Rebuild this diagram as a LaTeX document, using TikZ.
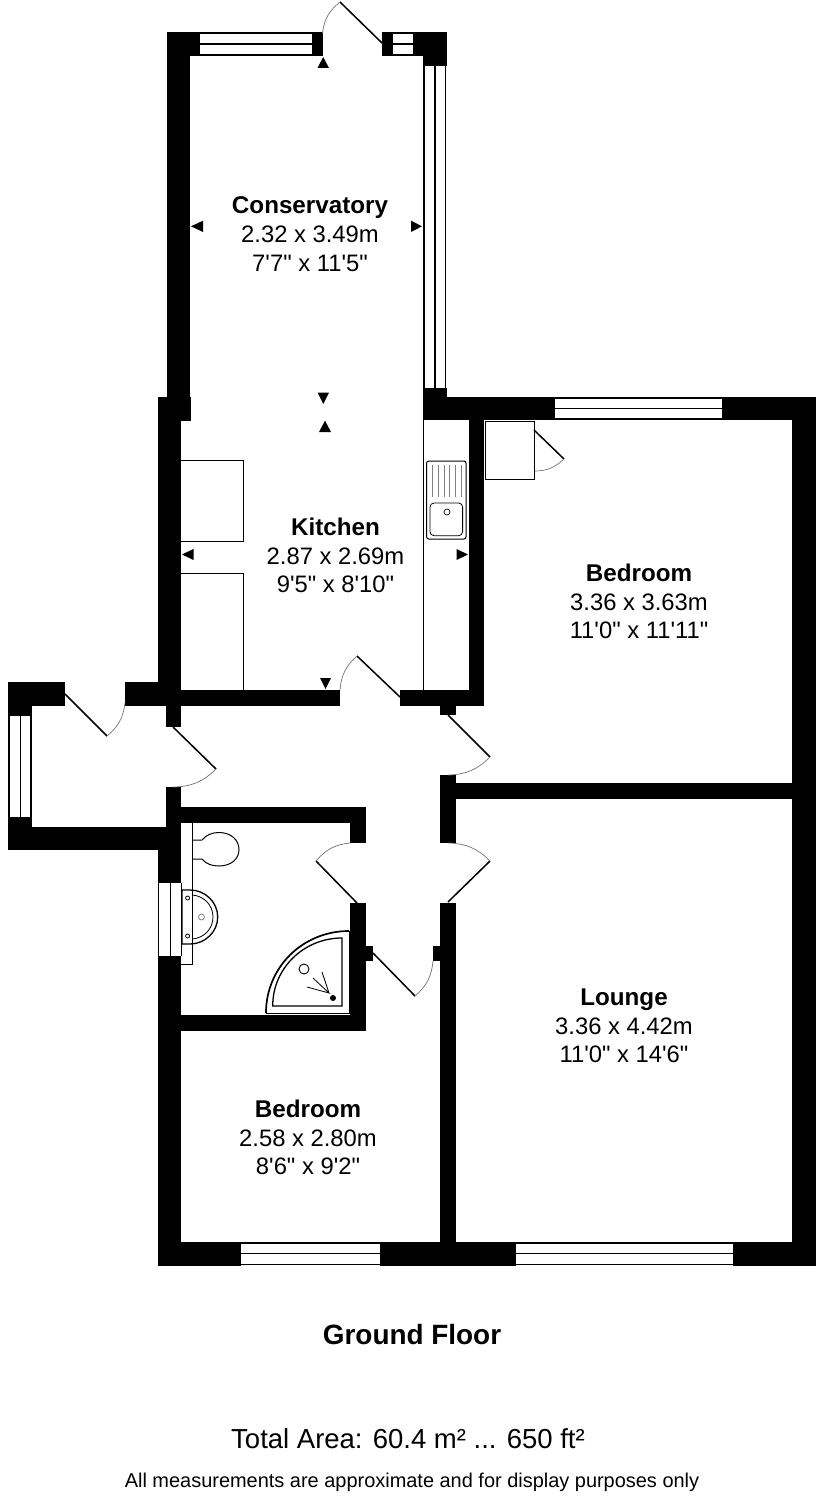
\documentclass[tikz,border=0pt]{standalone}
\usepackage{fontspec}
\setmainfont{Liberation Sans}[Ligatures=TeXOff]
\usepackage{tikz}
\newcommand{\doorleaf}[4]{%
	\draw[leaf] (#1) -- (#2);
	\draw[swing] (#2) to[bend #4=22] (#3);
}
\newcommand{\roomname}[1]{{\fontsize{24.2}{28.7}\selectfont\bfseries #1}}
\tikzset{
	wall/.style={fill=black},
	win/.style={draw=black, line width=1.6pt},
	leaf/.style={draw=black, line width=1.5pt},
	swing/.style={draw=black!55, line width=0.7pt},
	fitting/.style={draw=black, line width=1pt},
	dimtip/.style={fill=black},
	room/.style={align=center, inner sep=0pt, font=\fontsize{23.8}{28.7}\selectfont},
}
\begin{document}
\begin{tikzpicture}[x=1pt, y=-1pt]
	\useasboundingbox (0,0) rectangle (816,1496);
	% conservatory walls
	\fill[wall] (167,32) rectangle (190,397);
	\fill[wall] (190,32) rectangle (200,56);
	\fill[wall] (312,32) rectangle (322.5,56);
	\fill[wall] (382,32) rectangle (393,56);
	\fill[wall] (413,32) rectangle (446.5,56);
	\fill[wall] (423,56) rectangle (446.5,66);
	\fill[wall] (423,388) rectangle (446.5,420);
	% kitchen and hall walls
	\fill[wall] (157.5,397) rectangle (191,421);
	\fill[wall] (157.5,421) rectangle (181,706);
	\fill[wall] (125,682) rectangle (158,706);
	\fill[wall] (181,690) rectangle (340,706);
	\fill[wall] (400,690) rectangle (484,706);
	\fill[wall] (469,420) rectangle (484,690);
	\fill[wall] (440,706) rectangle (456,715);
	\fill[wall] (166,706) rectangle (181,727);
	\fill[wall] (166,787) rectangle (181,827);
	% porch walls
	\fill[wall] (8,682) rectangle (65,706);
	\fill[wall] (8,706) rectangle (32,716);
	\fill[wall] (8,817) rectangle (32,827);
	\fill[wall] (8,827) rectangle (181,850);
	% bathroom walls
	\fill[wall] (158,850) rectangle (181,882.5);
	\fill[wall] (158,955.5) rectangle (181,1265);
	\fill[wall] (181,807) rectangle (365.7,823);
	\fill[wall] (350,823) rectangle (365.7,843);
	\fill[wall] (350,903) rectangle (365.7,1030.7);
	\fill[wall] (181,1015) rectangle (350,1030.7);
	\fill[wall] (365,945.5) rectangle (372.5,961);
	\fill[wall] (432.7,945.5) rectangle (441,961);
	% outer walls and lounge
	\fill[wall] (446,397) rectangle (555,420);
	\fill[wall] (722,397) rectangle (816,420);
	\fill[wall] (792,420) rectangle (816,1242);
	\fill[wall] (158,1242) rectangle (241,1265.5);
	\fill[wall] (380,1242) rectangle (516,1265.5);
	\fill[wall] (733,1242) rectangle (816,1265.5);
	\fill[wall] (440,775) rectangle (456,843);
	\fill[wall] (440,903) rectangle (456,1242);
	\fill[wall] (456,783) rectangle (792,799);
	% windows
	\draw[win] (200,33) -- (312,33) (200,44) -- (312,44) (200,55) -- (312,55);
	\draw[win] (393,33) -- (413,33) (393,44) -- (413,44) (393,55) -- (413,55);
	\draw[win] (424,66) -- (424,388) (434.7,66) -- (434.7,388) (445.6,66) -- (445.6,388);
	\draw[win] (555,398) -- (722,398) (555,408.5) -- (722,408.5) (555,419) -- (722,419);
	\draw[win] (241,1243) -- (380,1243) (241,1253.5) -- (380,1253.5) (241,1264.5) -- (380,1264.5);
	\draw[win] (516,1243) -- (733,1243) (516,1253.5) -- (733,1253.5) (516,1264.5) -- (733,1264.5);
	\draw[win] (9,716) -- (9,817) (20.5,716) -- (20.5,817) (31,716) -- (31,817);
	\draw[fitting] (158.5,882.5) -- (158.5,955.5) (170,882.5) -- (170,955.5) (181,882.5) -- (181,955.5);
	% doors
	\doorleaf{382,43}{340,2}{322.5,33}{right}
	\doorleaf{400,697}{357,656}{340,690}{right}
	\doorleaf{65,694}{107,736}{125,703}{right}
	\doorleaf{173,727}{216,769}{173,787}{left}
	\doorleaf{448,715}{490,757}{448,775}{left}
	\doorleaf{357,903}{316,861}{350,843}{left}
	\doorleaf{448,902}{490,861}{448,843}{right}
	\doorleaf{373,953}{415,996}{433,961}{right}
	\doorleaf{534,430}{564,459}{534,471}{left}
	% kitchen units and sink
	\draw[fitting] (181,460) -| (243,541) -- (181,541);
	\draw[fitting] (181,573) -| (243,690);
	\draw[fitting] (423.5,420) -- (423.5,690);
	\draw[fitting, rounded corners=2pt] (426.7,461) rectangle (466,539);
	\draw[fitting, rounded corners=4pt, line width=0.8pt] (430,503) rectangle (462.6,535.7);
	\draw[fitting, line width=0.7pt] (447,512) circle (3);
	\draw[draw=black!50, line width=0.8pt] (432.7,465) -- (432.7,497) (438.3,465) -- (438.3,497) (444,465) -- (444,497)
		(449.7,465) -- (449.7,497) (455.3,465) -- (455.3,497) (461,465) -- (461,497);
	% cupboard
	\draw[fitting] (485.7,421.5) rectangle (534,479);
	% bathroom fittings
	\draw[fitting] (181,964) -- (192.3,964) -- (192.3,823);
	\draw[fitting] (192.3,840) -- (202,840) .. controls (206,835) and (212,832.5) .. (219,832.5)
		.. controls (231,832.5) and (239,840) .. (239,849.5) .. controls (239,859) and (231,866) .. (219,866)
		.. controls (212,866) and (206,864) .. (202,859) -- (192.3,859);
	\draw[fitting, line width=1.3pt] (182,890) -- (190,890) .. controls (205,890) and (217.7,902) .. (217.7,917)
		.. controls (217.7,932) and (205,944) .. (190,944) -- (182,944) -- cycle;
	\draw[fitting, line width=0.8pt] (192.3,895) .. controls (204,896) and (213,905) .. (213,917)
		.. controls (213,929) and (204,938) .. (192.3,939);
	\draw[fitting, line width=0.8pt] (187.6,898) circle (2);
	\draw[fitting, line width=0.8pt] (187.6,936) circle (2);
	\draw[draw=black!50, line width=0.8pt] (201.5,917) circle (3);
	\draw[fitting, line width=1.7pt] (266,1013) .. controls (266,967) and (303,931) .. (349,931);
	\draw[fitting, line width=0.7pt] (349,931) -- (349,1013) -- (266,1013);
	\draw[fitting, line width=1.3pt] (272.7,1006) .. controls (272.7,968) and (304,938) .. (342,938) -- (342,1006) -- cycle;
	\draw[fitting, line width=0.9pt] (304,969) circle (5);
	\fill[black] (333,998) circle (3);
	\draw[fitting, line width=0.8pt] (307,987) -- (329,993) -- (313,978) (329,993) -- (322,972);
	% dimension marks
	\fill[dimtip] (317.5,68) -- (323.2,57) -- (329,68) -- cycle;
	\fill[dimtip] (203,220.7) -- (191,226.3) -- (203,232) -- cycle;
	\fill[dimtip] (411,220.7) -- (422,226.3) -- (411,232) -- cycle;
	\fill[dimtip] (317.7,392.7) -- (323.3,404) -- (329,392.7) -- cycle;
	\fill[dimtip] (319,432) -- (325,420.7) -- (331,432) -- cycle;
	\fill[dimtip] (193.5,549) -- (182,554.5) -- (193.5,560) -- cycle;
	\fill[dimtip] (456.5,549) -- (468,554.5) -- (456.5,560) -- cycle;
	\fill[dimtip] (320,678) -- (325.5,689) -- (331,678) -- cycle;
	% room labels
	\node[room] (conservatory) at (310,234) {\roomname{Conservatory}\\2.32 x 3.49m\\7'7" x 11'5"};
	\node[room] (kitchen) at (335.5,555.5) {\roomname{Kitchen}\\2.87 x 2.69m\\9'5" x 8'10"};
	\node[room] (bedroomtop) at (639,601.5) {\roomname{Bedroom}\\3.36 x 3.63m\\11'0" x 11'11"};
	\node[room] (lounge) at (624,1026) {\roomname{Lounge}\\3.36 x 4.42m\\11'0" x 14'6"};
	\node[room] (bedroomlow) at (308,1137.5) {\roomname{Bedroom}\\2.58 x 2.80m\\8'6" x 9'2"};
	\node[inner sep=0pt, font=\fontsize{27.9}{32}\selectfont\bfseries] (floor) at (412,1335) {Ground Floor};
	\node[inner sep=0pt, font=\fontsize{27.5}{32}\selectfont] (area) at (408,1439) {Total Area: 60.4 m² ... 650 ft²};
	\node[inner sep=0pt, font=\fontsize{19.95}{24}\selectfont] (note) at (412,1482) {All measurements are approximate and for display purposes only};
\end{tikzpicture}
\end{document}
